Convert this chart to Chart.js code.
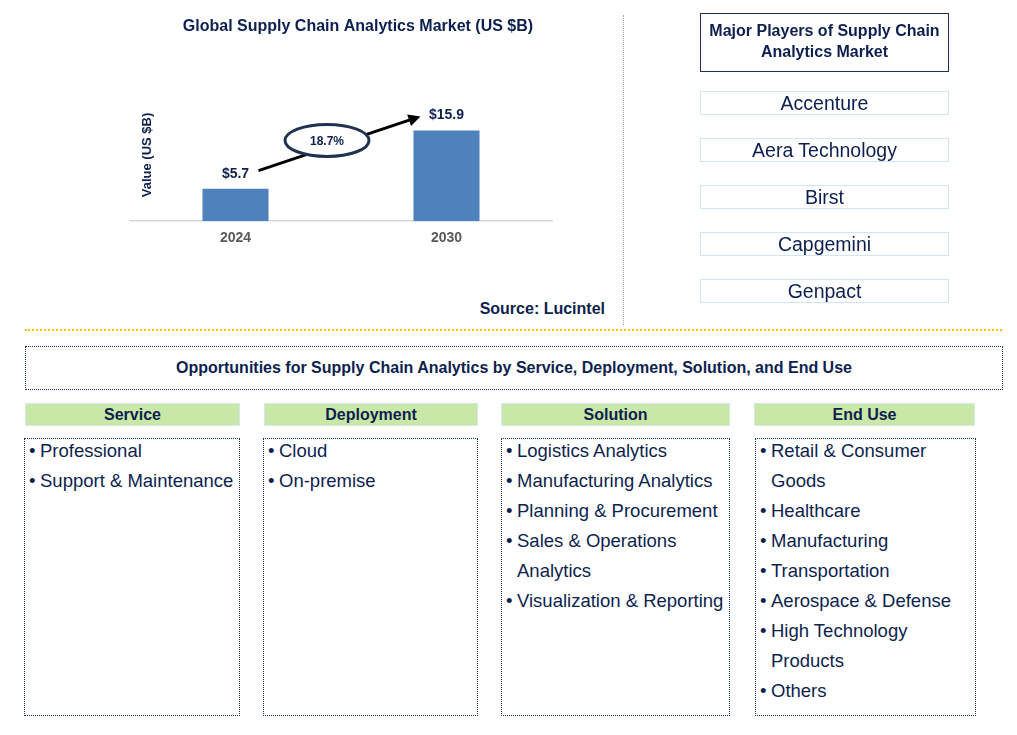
<!DOCTYPE html>
<html>
<head>
<meta charset="utf-8">
<script src="https://cdn.jsdelivr.net/npm/chart.js@4.4.1/dist/chart.umd.min.js"></script>
<style>
  body { margin: 0; background: #fff; font-family: Arial, "Liberation Sans", sans-serif; color: #0d1f4f; }
  #page { position: relative; width: 1017px; height: 735px; overflow: hidden; background: #fff; }
  #marketChart { position: absolute; left: 0; top: 0; }
  .abs { position: absolute; box-sizing: border-box; }
  #source { right: 412px; top: 300px; font-weight: bold; font-size: 16px; line-height: 18px; }
  #vsep { left: 623px; top: 15px; height: 310px; border-left: 1px dotted #a6a6a6; }
  #hsep { left: 25px; top: 329px; width: 977px; border-top: 2px dotted #ffc000; }
  #playersHead { left: 700px; top: 13px; width: 249px; height: 59px; border: 1.5px solid #1f2f5f;
    font-weight: bold; font-size: 16px; line-height: 21px; text-align: center; padding-top: 6px; }
  .player { left: 700px; width: 249px; height: 24px; border: 1.5px solid #cfe6f6;
    font-size: 19.5px; line-height: 23px; text-align: center; }
  #oppBox { left: 25px; top: 346px; width: 978px; height: 44px; border: 1px dotted #1f2f5f;
    font-weight: bold; font-size: 16px; line-height: 42px; text-align: center; }
  .catHead { top: 403px; height: 23px; background: #c9e7a7; border: 1px solid #d6e8f4;
    font-weight: bold; font-size: 16px; line-height: 21px; text-align: center; }
  .catList { top: 438px; height: 278px; border: 1px dotted #1f2f5f; }
  .items { position: relative; top: -3px; }
  .item { position: relative; padding-left: 15px; font-size: 18.5px; line-height: 30px; white-space: pre; }
  .item::before { content: "\2022"; position: absolute; left: 4px; top: 0; }
</style>
</head>
<body>
<div id="page">
  <canvas id="marketChart" width="716" height="260"></canvas>
  <div id="source" class="abs">Source: Lucintel</div>
  <div id="vsep" class="abs"></div>
  <div id="hsep" class="abs"></div>
  <div id="playersHead" class="abs">Major Players of Supply Chain<br>Analytics Market</div>
  <div id="players"></div>
  <div id="oppBox" class="abs">Opportunities for Supply Chain Analytics by Service, Deployment, Solution, and End Use</div>
  <div id="segments"></div>
</div>
<script>
const NAVY = '#0d1f4f';

// chart data
const years = ['2024', '2030'];
const marketValues = [5.7, 15.9];
const valueLabels = ['$5.7', '$15.9'];
const cagrLabel = '18.7%';
const chartTitle = 'Global Supply Chain Analytics Market (US $B)';
const yTitle = 'Value (US $B)';

// right panel + bottom
const players = ['Accenture', 'Aera Technology', 'Birst', 'Capgemini', 'Genpact'];
const segmentNames = ['Service', 'Deployment', 'Solution', 'End Use'];
const serviceItems = ['Professional', 'Support & Maintenance'];
const deploymentItems = ['Cloud', 'On-premise'];
const solutionItems = ['Logistics Analytics', 'Manufacturing Analytics', 'Planning & Procurement',
  'Sales & Operations\nAnalytics', 'Visualization & Reporting'];
const endUseItems = ['Retail & Consumer\nGoods', 'Healthcare', 'Manufacturing', 'Transportation',
  'Aerospace & Defense', 'High Technology\nProducts', 'Others'];

// players boxes
const playersDiv = document.getElementById('players');
players.forEach((name, i) => {
  const d = document.createElement('div');
  d.className = 'abs player';
  d.style.top = (91 + i * 47) + 'px';
  d.textContent = name;
  playersDiv.appendChild(d);
});

// segment columns
const columns = [[25, 215, 24, 216], [264, 214, 263, 215], [501, 229, 501, 229], [754, 221, 755, 221]];
const segmentItems = [serviceItems, deploymentItems, solutionItems, endUseItems];
const segDiv = document.getElementById('segments');
segmentNames.forEach((name, i) => {
  const [hx, hw, lx, lw] = columns[i];
  const h = document.createElement('div');
  h.className = 'abs catHead';
  h.style.left = hx + 'px';
  h.style.width = hw + 'px';
  h.textContent = name;
  segDiv.appendChild(h);

  const box = document.createElement('div');
  box.className = 'abs catList';
  box.style.left = lx + 'px';
  box.style.width = lw + 'px';
  const list = document.createElement('div');
  list.className = 'items';
  segmentItems[i].forEach(txt => {
    const it = document.createElement('div');
    it.className = 'item';
    it.textContent = txt;
    list.appendChild(it);
  });
  box.appendChild(list);
  segDiv.appendChild(box);
});

// title, axis label, value labels, growth arrow
const decorations = {
  id: 'decorations',
  afterDatasetsDraw(chart) {
    const ctx = chart.ctx;
    const bars = chart.getDatasetMeta(0).data;
    ctx.save();

    ctx.fillStyle = NAVY;
    ctx.textAlign = 'center';
    ctx.textBaseline = 'middle';
    ctx.font = 'bold 16px Arial, "Liberation Sans"';
    ctx.fillText(chartTitle, chart.width / 2, 27);

    ctx.save();
    ctx.translate(chart.chartArea.left + 17, 155);
    ctx.rotate(-Math.PI / 2);
    ctx.font = 'bold 13px Arial, "Liberation Sans"';
    ctx.fillText(yTitle, 0, 0);
    ctx.restore();

    ctx.font = 'bold 14px Arial, "Liberation Sans"';
    bars.forEach((bar, i) => ctx.fillText(valueLabels[i], bar.x, bar.y - 15));

    // arrow
    const b0 = bars[0], b1 = bars[1];
    const x1 = b0.x + 23, y1 = b0.y - 18;
    const x2 = b1.x - 26, y2 = b1.y - 14;
    const ang = Math.atan2(y2 - y1, x2 - x1);
    ctx.strokeStyle = '#000';
    ctx.fillStyle = '#000';
    ctx.lineWidth = 3;
    ctx.beginPath();
    ctx.moveTo(x1, y1);
    ctx.lineTo(x2 - 8 * Math.cos(ang), y2 - 8 * Math.sin(ang));
    ctx.stroke();
    ctx.beginPath();
    ctx.moveTo(x2, y2);
    ctx.lineTo(x2 - 12 * Math.cos(ang) + 6 * Math.sin(ang), y2 - 12 * Math.sin(ang) - 6 * Math.cos(ang));
    ctx.lineTo(x2 - 12 * Math.cos(ang) - 6 * Math.sin(ang), y2 - 12 * Math.sin(ang) + 6 * Math.cos(ang));
    ctx.closePath();
    ctx.fill();

    // cagr ellipse
    const cx = (b0.x + b1.x) / 2 - 14, cy = b1.y + 10;
    ctx.beginPath();
    ctx.ellipse(cx, cy, 42, 16, 0, 0, Math.PI * 2);
    ctx.fillStyle = '#fff';
    ctx.fill();
    ctx.strokeStyle = '#1f3350';
    ctx.lineWidth = 3;
    ctx.stroke();
    ctx.fillStyle = NAVY;
    ctx.font = 'bold 12px Arial, "Liberation Sans"';
    ctx.fillText(cagrLabel, cx, cy + 1);

    ctx.restore();
  }
};

new Chart(document.getElementById('marketChart'), {
  type: 'bar',
  data: {
    labels: years,
    datasets: [{
      data: marketValues,
      backgroundColor: '#4f81bd',
      categoryPercentage: 1,
      barPercentage: 0.313
    }]
  },
  options: {
    responsive: false,
    animation: false,
    devicePixelRatio: 1,
    layout: { padding: { left: 130, right: 164, top: 107, bottom: 4 } },
    scales: {
      x: {
        grid: { display: false, drawTicks: false },
        border: { display: true, color: '#d9d9d9', width: 1.5 },
        ticks: { color: '#595959', font: { family: 'Arial, "Liberation Sans"', size: 14, weight: 'bold' }, padding: 9 }
      },
      y: { display: false, min: 0, max: 20 }
    },
    plugins: {
      legend: { display: false },
      title: { display: false },
      tooltip: { enabled: false }
    }
  },
  plugins: [decorations]
});
</script>
</body>
</html>
